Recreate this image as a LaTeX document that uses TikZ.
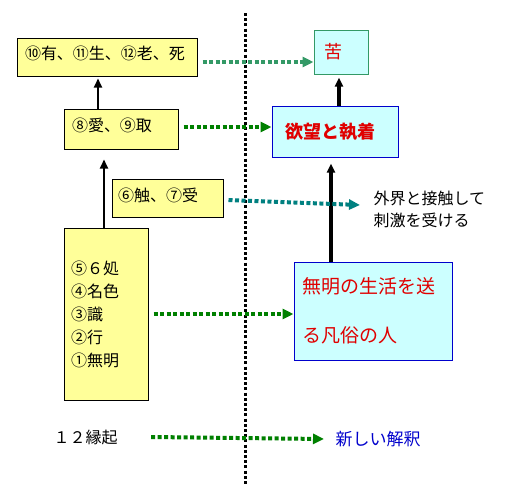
\documentclass[tikz,border=0pt]{standalone}
\usepackage{fontspec}
\setmainfont{Noto Sans CJK JP}
\usetikzlibrary{arrows.meta,positioning}
\definecolor{bxYellow}{HTML}{FFFF99}
\definecolor{bxCyan}{HTML}{CCFFFF}
\definecolor{lnTeal}{HTML}{339966}
\definecolor{lnGreen}{HTML}{008000}
\definecolor{lnSea}{HTML}{008080}
\definecolor{txRed}{HTML}{E00000}
\definecolor{txBlue}{HTML}{0000CC}

\begin{document}
\begin{tikzpicture}[x=1pt,y=-1pt,font=\fontsize{16}{23}\selectfont,
      yb/.style={draw,fill=bxYellow,line width=1pt,inner sep=0pt,align=left},
      cb/.style={draw=txBlue,fill=bxCyan,line width=1pt,inner sep=0pt,
                 align=left,text=txRed},
      up/.style={-{Triangle[length=9pt,width=8pt]},line width=2pt},
      dt/.style={-{Triangle[length=11pt,width=10pt]},line width=4pt,
                 dash pattern=on 4pt off 2.5pt}]
    \useasboundingbox (0,0) rectangle (507,496);

    % left column
    \node[yb,minimum width=180,minimum height=38,text width=164,text depth=8pt] (a) at (107,57) {⑩有、⑪生、⑫老、死};
    \node[yb,minimum width=114,minimum height=40,text width=98,text depth=9pt]  (b) at (121,129) {⑧愛、⑨取};
    \node[yb,minimum width=111,minimum height=38,text width=99,text depth=7pt]  (c) at (167.5,198) {⑥触、⑦受};
    \node[yb,minimum width=84,minimum height=172,text width=70]  (d) at (106,314) {⑤６処\\④名色\\③識\\②行\\①無明};
    \node[anchor=west] (r) at (50,437) {１２縁起};

    % right column
    \node[cb,draw=lnTeal,minimum width=54,minimum height=44,text width=34,font=\fontsize{18}{20}\selectfont] (k) at (341,52) {苦};
    \node[cb,minimum width=126,minimum height=51,text width=100,font=\fontsize{18}{20}\selectfont\bfseries] (y) at (335,131.5) {欲望と執着};
    \node[cb,minimum width=158,minimum height=98,text width=142,font=\fontsize{19}{49}\selectfont] (e) at (373,311) {無明の生活を送\\る凡俗の人};
    \node[anchor=west,align=left,font=\fontsize{16}{22}\selectfont] (t) at (370,209) {外界と接触して\\刺激を受ける};
    \node[anchor=west,text=txBlue,font=\fontsize{17}{20}\selectfont] (n) at (332,439) {新しい解釈};

    % divider
    \coordinate (top) at (245,13);
    \coordinate (bot) at (245,486);
    \draw[line width=3pt,dash pattern=on 3pt off 2.2pt] (top) -- (bot);

    % black arrows
    \draw[up,shorten >=2pt] ([xshift=-23pt]b.north) -- ([xshift=-23pt]b.north |- a.south);
    \draw[up,shorten >=10pt] ([xshift=-2pt]d.north) -- ([xshift=-2pt]d.north |- b.south);
    \draw[up,line width=4pt,shorten >=3pt] ([xshift=4pt]y.north) -- ([xshift=4pt]y.north |- k.south);
    \draw[up,line width=4pt,shorten >=6pt] ([xshift=-42pt]e.north) -- ([xshift=-42pt]e.north |- y.south);

    % dotted arrows
    \draw[dt,lnTeal]  ([xshift=5pt,yshift=-5pt]a.east) -- ([yshift=-5pt]a.east -| k.west);
    \draw[dt,lnGreen] ([xshift=5pt,yshift=2pt]b.east) -- ([yshift=2pt]b.east -| y.west);
    \draw[dt,lnSea]   ([xshift=5pt,yshift=-2pt]c.east) -- ([xshift=-10pt,yshift=4pt]t.west);
    \draw[dt,lnGreen] ([xshift=5pt]d.east) -- (d.east -| e.west);
    \draw[dt,lnGreen] ([xshift=30pt]r.east) -- ([xshift=-8pt]n.west);
  \end{tikzpicture}
\end{document}
